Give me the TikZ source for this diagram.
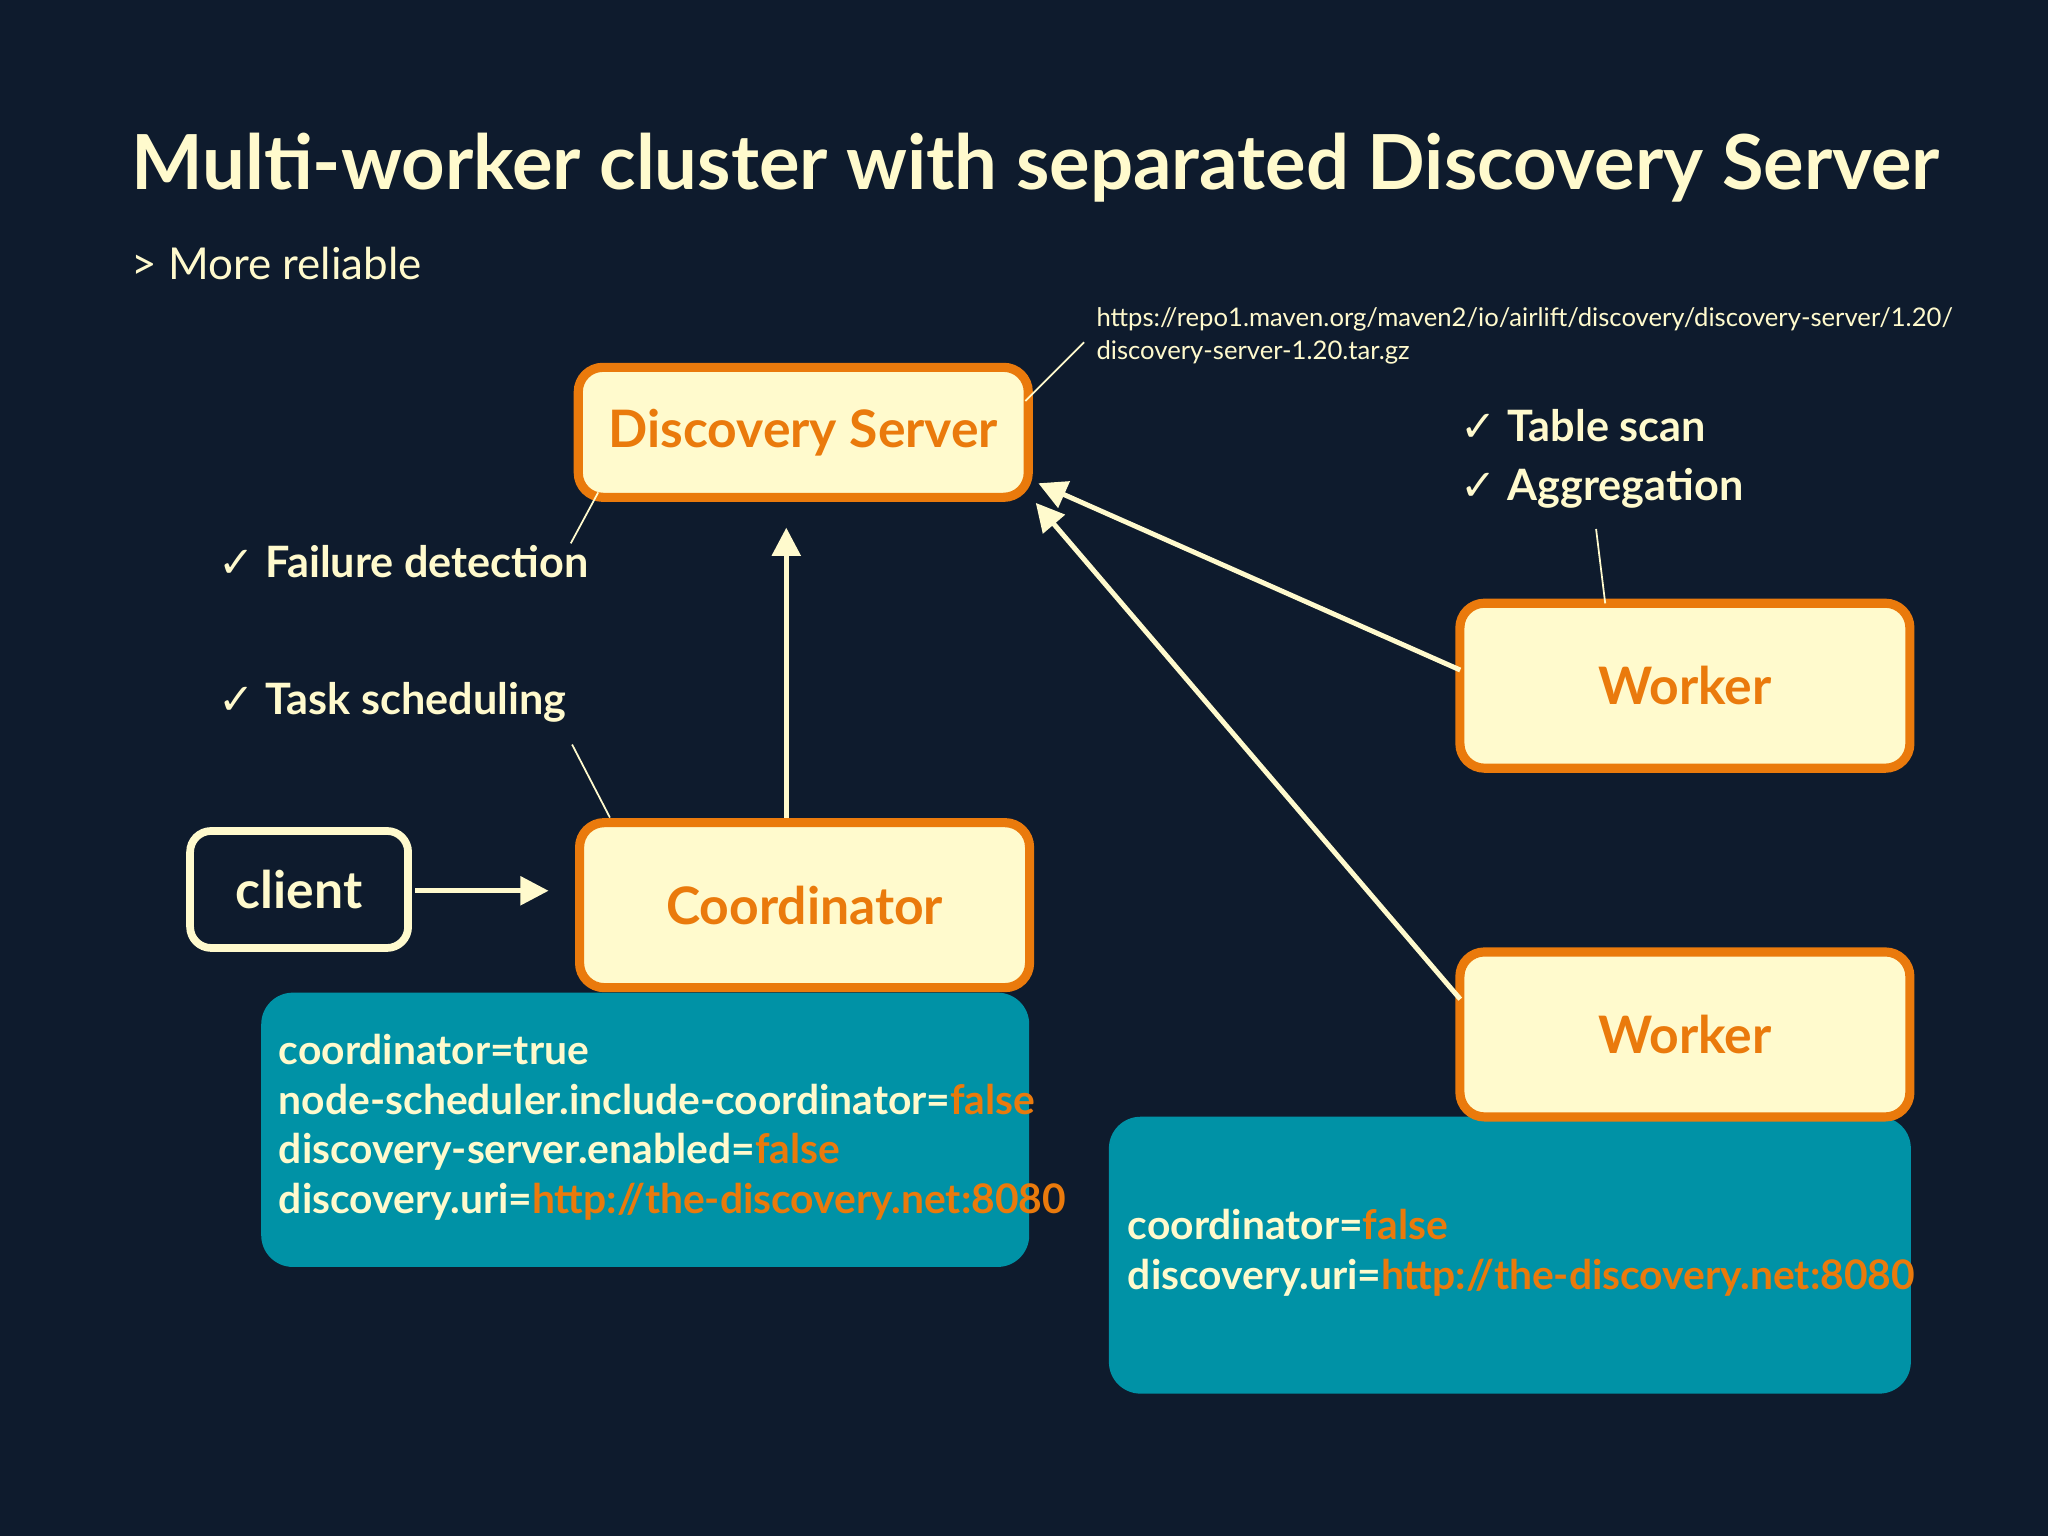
\documentclass[tikz,border=0pt]{standalone}
\usepackage{fontspec}
\setmainfont{Lato}
\newfontfamily\chk{DejaVu Sans}
\usetikzlibrary{arrows.meta}
\definecolor{bg}{RGB}{14,27,45}
\definecolor{cream}{RGB}{255,250,205}
\definecolor{org}{RGB}{234,122,12}
\definecolor{teal}{RGB}{0,146,166}
\newcommand{\ck}{{\chk\char"2713}\ }
\begin{document}
\begin{tikzpicture}[x=0.01306cm,y=-0.01306cm,
  box/.style={draw=org,line width=2.6pt,fill=cream,rounded corners=7pt,text=org,font=\fontsize{14.7}{17}\selectfont\bfseries,minimum width=4.5cm},
  tbox/.style={fill=teal,rounded corners=9pt},
  lab/.style={text=cream,anchor=base west,inner sep=0pt,font=\fontsize{12.3}{14}\selectfont\bfseries},
  tt/.style={text=cream,anchor=base west,inner sep=0pt,font=\fontsize{11.6}{14}\selectfont\bfseries},
  lead/.style={draw=cream,line width=0.5pt},
  arr/.style={draw=cream,line width=1.4pt,-{Triangle[length=8pt,width=8pt]}}]
\fill[bg] (0,0) rectangle (1568,1176);
\node[text=cream,anchor=base west,inner sep=0pt,font=\fontsize{21.6}{26}\selectfont\bfseries] (title) at (100,145) {Multi-worker cluster with separated Discovery Server};
\node[text=cream,anchor=base west,inner sep=0pt,font=\fontsize{12.5}{15}\selectfont] (sub) at (100,214) {> More reliable};
\node[text=cream,anchor=base west,inner sep=0pt,font=\fontsize{7.3}{9}\selectfont] (url1) at (839,250) {https://repo1.maven.org/maven2/io/airlift/discovery/discovery-server/1.20/};
\node[text=cream,anchor=base west,inner sep=0pt,font=\fontsize{7.3}{9}\selectfont] (url2) at (839,275) {discovery-server-1.20.tar.gz};
\fill[tbox] (200,760) rectangle (788,970);
\fill[tbox] (849,855) rectangle (1463,1067);
\node[box,minimum height=1.3cm] (ds) at (615,331) {Discovery Server};
\node[box,minimum height=1.65cm] (co) at (616,693) {Coordinator};
\node[box,minimum height=1.65cm] (w1) at (1290,525) {Worker};
\node[box,minimum height=1.65cm] (w2) at (1290,792) {Worker};
\node[draw=cream,line width=2.2pt,fill=bg,rounded corners=6pt,text=cream,font=\fontsize{14.7}{17}\selectfont\bfseries,minimum width=2.18cm,minimum height=1.17cm] (cl) at (229,681) {client};
\node[tt] (a1) at (213,815) {coordinator=true};
\node[tt] (a2) at (213,853) {node-scheduler.include-coordinator=\textcolor{org}{false}};
\node[tt] (a3) at (213,891) {discovery-server.enabled=\textcolor{org}{false}};
\node[tt] (a4) at (213,929) {discovery.uri=\textcolor{org}{http://the-discovery.net:8080}};
\node[tt] (b1) at (863,949) {coordinator=\textcolor{org}{false}};
\node[tt] (b2) at (863,987) {discovery.uri=\textcolor{org}{http://the-discovery.net:8080}};
\node[lab] (l1) at (167,442) {\ck Failure detection};
\node[lab] (l2) at (167,547) {\ck Task scheduling};
\node[lab] (l3) at (1118,338) {\ck Table scan};
\node[lab] (l4) at (1118,383) {\ck Aggregation};
\coordinate (p1) at (458,377); \coordinate (q1) at (437,416);
\coordinate (p2) at (438,570); \coordinate (q2) at (467,626);
\coordinate (p3) at (785,307); \coordinate (q3) at (830,262);
\coordinate (p4) at (1222,405); \coordinate (q4) at (1229,462);
\draw[lead] (p1)--(q1); \draw[lead] (p2)--(q2); \draw[lead] (p3)--(q3); \draw[lead] (p4)--(q4);
\coordinate (c0) at (602,626); \coordinate (c1) at (602,404);
\coordinate (w1s) at (1118,513); \coordinate (w1e) at (795,370);
\coordinate (w2s) at (1118,765); \coordinate (w2e) at (793,385);
\coordinate (k0) at (318,682); \coordinate (k1) at (420,682);
\draw[arr] (c0)--(c1); \draw[arr] (w1s)--(w1e); \draw[arr] (w2s)--(w2e); \draw[arr] (k0)--(k1);
\end{tikzpicture}
\end{document}
